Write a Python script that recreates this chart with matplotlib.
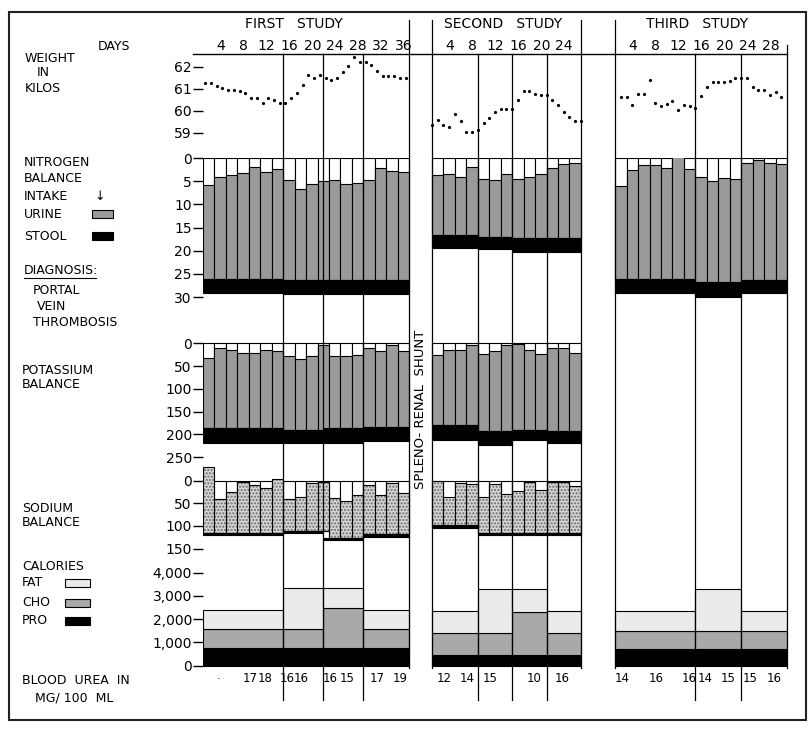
import numpy as np
import matplotlib.pyplot as plt
from matplotlib.patches import Rectangle

W, H = 810, 734
X0, PX_DAY = 203, 5.725   # left edge of first study and pixels per day

# ---- layout of the three studies (in days) ----
study_start = [0, 40, 72]
study_len = [36, 26, 30]
period_bounds = [[0, 14, 21, 28, 36], [0, 8, 14, 20, 26], [0, 14, 22, 30]]
day_labels = [[4, 8, 12, 16, 20, 24, 28, 32, 36],
              [4, 8, 12, 16, 20, 24],
              [4, 8, 12, 16, 20, 24, 28]]
study_titles = ["FIRST   STUDY", "SECOND   STUDY", "THIRD   STUDY"]

# ---- weight (kg), one dot per day ----
weight_1 = [61.26, 61.26, 61.14, 61.06, 60.95, 60.95, 60.92, 60.80, 60.60, 60.60,
            60.38, 60.60, 60.50, 60.38, 60.38, 60.58, 60.80, 61.18, 61.64, 61.49,
            61.64, 61.49, 61.41, 61.49, 61.79, 62.05, 62.47, 62.24, 62.24, 62.09,
            61.82, 61.61, 61.61, 61.61, 61.51, 61.49]
weight_2 = [59.36, 59.59, 59.36, 59.26, 59.86, 59.56, 59.06, 59.06, 59.14, 59.44,
            59.70, 59.97, 60.09, 60.09, 60.09, 60.50, 60.92, 60.92, 60.76, 60.73,
            60.73, 60.50, 60.27, 59.97, 59.74, 59.55, 59.55]
weight_3 = [60.65, 60.65, 60.27, 60.77, 60.77, 61.41, 60.38, 60.23, 60.32, 60.47,
            60.05, 60.27, 60.23, 60.12, 60.68, 61.11, 61.30, 61.30, 61.30, 61.38,
            61.49, 61.49, 61.49, 61.08, 60.95, 60.95, 60.73, 60.88, 60.65]

# ---- nitrogen (g/day): intake & stool per period, balance per 2-day bar ----
n_intake = [[29.1, 29.3, 29.3, 29.3], [19.4, 19.6, 20.2, 20.2], [29.2, 29.9, 29.2]]
n_stool = [[2.9, 3.0, 3.0, 3.0], [2.7, 2.5, 2.9, 2.9], [3.1, 3.1, 2.8]]
n_balance = [[5.8, 4.0, 3.7, 3.3, 2.0, 3.1, 2.4, 4.7, 6.7, 5.7, 5.0, 4.7, 5.6, 5.3, 4.8, 2.2, 2.8, 3.0],
             [3.6, 3.5, 4.0, 2.0, 4.5, 4.8, 3.5, 4.5, 4.0, 3.5, 2.2, 1.4, 1.1],
             [6.1, 2.5, 1.6, 1.6, 2.1, -1.5, 2.3, 4.1, 5.0, 4.3, 4.5, 1.1, 0.5, 1.1, 1.2]]

# ---- potassium (mEq/day) ----
k_intake = [[220, 220, 219, 214], [212, 223, 212, 220]]
k_stool = [[33, 30, 32, 31], [33, 31, 22, 27]]
k_balance = [[33, 11, 15, 21, 21, 15, 18, 29, 35, 29, 4, 29, 29, 25, 11, 16, 4, 18],
             [26, 15, 15, 4, 24, 17, 4, 2, 15, 24, 11, 11, 22]]

# ---- sodium (mEq/day) ----
na_intake = [[120, 116, 131, 124], [104, 121, 121, 121]]
na_stool = [[5, 5, 5, 5], [5, 5, 5, 5]]
na_balance = [[-31, 41, 26, 2, 9, 17, -4, 41, 37, 6, 4, 39, 46, 32, 10, 32, 6, 28],
              [0, 37, 6, 8, 35, 8, 30, 22, 4, 21, 4, 2, 11]]

# ---- calories per period ----
cal_pro = [[750, 750, 750, 750], [460, 460, 460, 460], [715, 715, 715]]
cal_cho = [[815, 820, 1745, 840], [945, 945, 1840, 945], [790, 790, 790]]
cal_fat = [[830, 1760, 835, 805], [945, 1885, 990, 945], [860, 1790, 860]]

# ---- blood urea (mg/100 ml) ----
urea_day = [8.2, 10.8, 14.7, 17.1, 22.3, 25.1, 30.4, 34.4, 42.1, 46.1, 50.1, 57.9, 62.7,
            73.3, 79.1, 85.0, 87.8, 91.8, 95.5, 99.8]
urea_value = [17, 18, 16, 16, 16, 15, 17, 19, 12, 14, 15, 10, 16, 14, 16, 16, 14, 15, 15, 16]

URINE_GRAY = "#9a9a9a"
CHO_GRAY = "#a9a9a9"
FAT_GRAY = "#ebebeb"


def px(day):
    return X0 + day * PX_DAY


def panel(top, bottom, ylim, ticks, labels=None):
    ax = fig.add_axes([X0 / W, 1 - bottom / H, (px(102) - X0) / W, (bottom - top) / H])
    ax.set_facecolor("none")
    ax.set_xlim(0, 102)
    ax.set_ylim(*ylim)
    for s in ax.spines.values():
        s.set_visible(False)
    ax.set_xticks([])
    ax.set_yticks(ticks)
    ax.set_yticklabels(labels if labels else [str(t) for t in ticks])
    ax.tick_params(axis="y", length=7, width=1, pad=1, labelsize=10)
    return ax


def balance_bars(ax, start, bounds, intake, stool, balance, hatch=False):
    n = len(balance)
    left = start + 2 * np.arange(n)
    idx = np.searchsorted(bounds, 2 * np.arange(n) + 1) - 1
    inn = np.array(intake, float)[idx]
    st = np.array(stool, float)[idx]
    bal = np.array(balance, float)
    top = inn - st
    ax.bar(left, top, width=2, bottom=0, align="edge", color="white",
           edgecolor="black", lw=0.8)
    if hatch:
        ax.bar(left, top - bal, width=2, bottom=bal, align="edge", color="#d4d4d4",
               hatch=".....", edgecolor="#6a6a6a", lw=0)
        ax.bar(left, top - bal, width=2, bottom=bal, align="edge", fill=False,
               edgecolor="black", lw=0.8)
    else:
        ax.bar(left, top - bal, width=2, bottom=bal, align="edge", color=URINE_GRAY,
               edgecolor="black", lw=0.8)
    for i in range(len(bounds) - 1):
        ax.bar(start + bounds[i], stool[i], width=bounds[i + 1] - bounds[i],
               bottom=intake[i] - stool[i], align="edge", color="black",
               edgecolor="black", lw=0.8)


fig = plt.figure(figsize=(W / 100, H / 100), dpi=100)

# weight
ax_w = panel(54, 158, (57.86, 62.59), [59, 60, 61, 62])
for s, w in zip(study_start, [weight_1, weight_2, weight_3]):
    off = 0.4 if s == 0 else (0.0 if s == 40 else 1.0)
    ax_w.plot(s + off + np.arange(len(w)), w, "o", color="black", ms=2.3, mew=0)
ticks, labs = [], []
for s, lab in zip(study_start, day_labels):
    ticks += [s + d - 0.9 for d in lab]
    labs += [str(d) for d in lab]
ax_w.xaxis.set_ticks_position("top")
ax_w.set_xticks(ticks)
ax_w.set_xticklabels(labs, fontsize=10)
ax_w.tick_params(axis="x", length=0, pad=1)

# nitrogen
ax_n = panel(158, 335, (38.2, 0), [0, 5, 10, 15, 20, 25, 30])
for i in range(3):
    balance_bars(ax_n, study_start[i], period_bounds[i], n_intake[i], n_stool[i], n_balance[i])

# potassium
ax_k = panel(335, 465, (267.5, -18.2), [0, 50, 100, 150, 200, 250])
for i in range(2):
    balance_bars(ax_k, study_start[i], period_bounds[i], k_intake[i], k_stool[i], k_balance[i])

# sodium
ax_na = panel(465, 560, (175.4, -34.7), [0, 50, 100, 150])
for i in range(2):
    balance_bars(ax_na, study_start[i], period_bounds[i], na_intake[i], na_stool[i],
                 na_balance[i], hatch=True)

# calories
ax_c = panel(560, 668, (-99, 4546), [0, 1000, 2000, 3000, 4000],
             ["0", "1,000", "2,000", "3,000", "4,000"])
for i in range(3):
    b = np.array(period_bounds[i])
    left = study_start[i] + b[:-1]
    wid = np.diff(b)
    pro, cho, fat = map(np.array, (cal_pro[i], cal_cho[i], cal_fat[i]))
    ax_c.bar(left, pro, wid, align="edge", color="black", edgecolor="black", lw=0.8)
    ax_c.bar(left, cho, wid, bottom=pro, align="edge", color=CHO_GRAY, edgecolor="black", lw=0.8)
    ax_c.bar(left, fat, wid, bottom=pro + cho, align="edge", color=FAT_GRAY,
             edgecolor="black", lw=0.8)

# ---- overlay: frame, separators and text ----
ov = fig.add_axes([0, 0, 1, 1], zorder=5)
ov.set_facecolor("none")
ov.set_xlim(0, W)
ov.set_ylim(H, 0)
ov.axis("off")

ov.add_patch(Rectangle((9, 12), 797, 708, fill=False, ec="#222", lw=1.5))
ov.plot([193, px(102)], [54, 54], color="black", lw=1)
for i in range(3):
    for b in period_bounds[i][1:-1]:
        ov.plot([px(study_start[i] + b)] * 2, [54, 700], color="black", lw=0.9)
for d, y0 in [(36, 20), (40, 20), (66, 20), (72, 20), (102, 45)]:
    ov.plot([px(d)] * 2, [y0, 668], color="black", lw=0.9)

title_center = [15.9, 52.4, 86.3]
for c, t in zip(title_center, study_titles):
    ov.text(px(c), 24, t, ha="center", va="center", fontsize=10)

ov.text(421, 409, "SPLENO- RENAL  SHUNT", rotation=90, ha="center", va="center", fontsize=9.5)

for d, v in zip(urea_day, urea_value):
    ov.text(px(d), 679, str(v), ha="center", va="center", fontsize=8.5)
ov.text(px(2.8), 679, "·", ha="center", va="center", fontsize=8)

left_text = [("DAYS", 98, 47), ("WEIGHT", 25, 58), ("IN", 37, 73), ("KILOS", 25, 89),
             ("NITROGEN", 24, 162), ("BALANCE", 24, 179), ("INTAKE", 24, 197),
             ("URINE", 24, 214), ("STOOL", 24, 236), ("DIAGNOSIS:", 24, 270),
             ("PORTAL", 33, 290), ("VEIN", 37, 307), ("THROMBOSIS", 33, 323),
             ("POTASSIUM", 22, 370), ("BALANCE", 22, 385), ("SODIUM", 22, 508),
             ("BALANCE", 22, 523), ("CALORIES", 22, 566), ("FAT", 22, 583),
             ("CHO", 22, 603), ("PRO", 22, 621), ("BLOOD  UREA  IN", 22, 680),
             ("MG/ 100  ML", 35, 698)]
for t, x, y in left_text:
    ov.text(x, y, t, ha="left", va="center", fontsize=9)
ov.plot([24, 96], [278, 278], color="black", lw=0.8)
ov.text(100, 196, "↓", ha="center", va="center", fontsize=9)

for y, c in [(214, URINE_GRAY), (236, "black")]:
    ov.add_patch(Rectangle((92, y - 4), 21, 8, fc=c, ec="black", lw=0.8))
for y, c in [(583, FAT_GRAY), (603, CHO_GRAY), (621, "black")]:
    ov.add_patch(Rectangle((65, y - 4), 25, 8, fc=c, ec="black", lw=0.8))

fig.savefig("out.png", dpi=100)
